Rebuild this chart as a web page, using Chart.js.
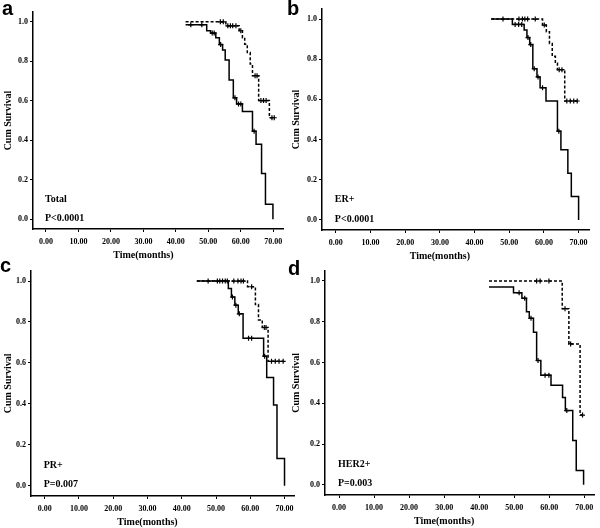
<!DOCTYPE html>
<html>
<head>
<meta charset="utf-8">
<script src="https://cdn.jsdelivr.net/npm/chart.js@4.4.0/dist/chart.umd.min.js"></script>
<style>
  html, body { margin: 0; padding: 0; background: #fff; }
  #wrap { position: relative; width: 600px; height: 528px; overflow: hidden; }
  canvas { position: absolute; }
  .tag { position: absolute; font: bold 20px "Liberation Sans", Arial, sans-serif; line-height: 20px; color: #000; }
</style>
</head>
<body>
<div id="wrap">
  <canvas id="chartA" width="300" height="264" style="left:0;top:0"></canvas>
  <canvas id="chartB" width="312" height="264" style="left:288px;top:0"></canvas>
  <canvas id="chartC" width="300" height="264" style="left:0;top:264px"></canvas>
  <canvas id="chartD" width="312" height="264" style="left:288px;top:264px"></canvas>
  <div class="tag" style="left:2px;top:-2px">a</div>
  <div class="tag" style="left:287px;top:-2px">b</div>
  <div class="tag" style="left:0px;top:255px">c</div>
  <div class="tag" style="left:288px;top:258px">d</div>
</div>
<script>
// tick labels
const xTicks = [0, 10, 20, 30, 40, 50, 60, 70];
const yTicks = [0, 0.2, 0.4, 0.6, 0.8, 1.0];

// a - Total
const aSolidTime = [43, 49.5, 50.7, 52.3, 53.4, 54.4, 55.2, 56.4, 57.7, 58.7, 60.5, 63.6, 64.7, 66.4, 67.6, 69.9];
const aSolidSurv = [0.985, 0.955, 0.943, 0.92, 0.885, 0.857, 0.807, 0.705, 0.615, 0.584, 0.546, 0.446, 0.379, 0.231, 0.076, 0];
const aSolidCens = [44.6, 48, 51.2, 51.8, 53.8, 58.2, 59.3, 60, 64.1];
const aDashTime = [43, 55.4, 59.5, 60.5, 61.2, 62, 62.9, 63.6, 65.5, 68.8];
const aDashSurv = [1, 0.98, 0.955, 0.92, 0.887, 0.845, 0.786, 0.727, 0.601, 0.514];
const aDashCens = [53.7, 54.6, 56, 56.8, 57.5, 58.5, 60, 64.4, 65, 66.2, 67, 67.8, 69.6, 70.3];

// b - ER+
const bSolidTime = [44.8, 50.9, 54.3, 55.1, 55.9, 56.8, 58, 58.9, 60.6, 63.9, 64.9, 66.9, 67.9, 70];
const bSolidSurv = [1, 0.973, 0.945, 0.908, 0.873, 0.753, 0.712, 0.658, 0.592, 0.442, 0.35, 0.233, 0.117, 0];
const bSolidCens = [48.2, 51.7, 52.7, 53.6, 55.4, 56.2, 57.2, 58.3, 59.6, 64.3];
const bDashTime = [44.8, 59.6, 60.7, 61.6, 62.4, 63.3, 63.9, 66];
const bDashSurv = [1, 0.97, 0.937, 0.878, 0.815, 0.78, 0.748, 0.592];
const bDashCens = [52.8, 53.8, 54.5, 55.3, 57.5, 60.1, 64.4, 65.2, 66.6, 67.6, 68.6, 69.6];

// c - PR+
const cSolidTime = [44.4, 53.6, 54.5, 55.5, 56.5, 57.9, 63.9, 64.8, 66.8, 67.8, 70];
const cSolidSurv = [1, 0.963, 0.922, 0.882, 0.84, 0.72, 0.633, 0.529, 0.395, 0.133, 0];
const cSolidCens = [47.7, 50.4, 51.1, 51.9, 52.7, 53.3, 54.8, 55.8, 56.8, 59.5, 60.4, 64.2];
const cDashTime = [44.4, 59.2, 61.5, 62.4, 63.5, 65.2];
const cDashSurv = [1, 0.972, 0.885, 0.81, 0.773, 0.608];
const cDashCens = [55.2, 56.4, 57.3, 58.0, 60.4, 64.1, 64.6, 66.2, 67.3, 68.4, 69.6];

// d - HER2+
const dSolidTime = [42.8, 49.8, 52.2, 53.5, 54.3, 55.5, 56.4, 57.6, 60.5, 63.8, 64.6, 66.7, 67.7, 69.8];
const dSolidSurv = [0.971, 0.942, 0.915, 0.849, 0.817, 0.748, 0.61, 0.538, 0.489, 0.428, 0.364, 0.218, 0.07, 0];
const dSolidCens = [51.4, 53, 54.8, 56.8, 58.8, 59.9, 65];
const dDashTime = [42.8, 63.7, 65.6, 68.8];
const dDashSurv = [1, 0.864, 0.691, 0.342];
const dDashCens = [56.4, 57.4, 59.9, 64.5, 66.1, 69.5];

const serif = '"Liberation Serif", "Times New Roman", serif';

// merge event steps and censored times into one sorted point list
function kmPoints(times, surv, cens) {
    const pts = times.map((t, i) => ({ x: t, y: surv[i], c: false }));
    cens.forEach(t => {
        let y = surv[0];
        times.forEach((tt, i) => { if (tt <= t) y = surv[i]; });
        pts.push({ x: t, y: y, c: true });
    });
    pts.sort((p, q) => p.x - q.x);
    return pts;
}

function kmDataset(pts, dashed) {
    return {
        data: pts,
        stepped: 'before',
        borderColor: '#000',
        borderWidth: 1.5,
        borderDash: dashed ? [3, 2] : [],
        fill: false,
        pointStyle: 'cross',
        pointRadius: ctx => (ctx.raw && ctx.raw.c ? 2.5 : 0),
        pointBorderColor: '#000',
        pointBorderWidth: 1.2
    };
}

function drawPanel(id, solid, dashed, box, label, pText) {
    const canvas = document.getElementById(id);

    // panel label, p-value and x title
    const textPlugin = {
        id: 'panelText',
        afterDraw(chart) {
            const ctx = chart.ctx;
            const xs = chart.scales.x;
            const ys = chart.scales.y;
            ctx.save();
            ctx.fillStyle = '#000';
            ctx.font = 'bold 10px ' + serif;
            ctx.textAlign = 'left';
            ctx.textBaseline = 'middle';
            ctx.fillText(label, xs.getPixelForValue(0) - 1, ys.getPixelForValue(0.1));
            ctx.fillText(pText, xs.getPixelForValue(0) - 1, ys.getPixelForValue(0.005));
            ctx.textAlign = 'center';
            ctx.fillText('Time(months)', xs.getPixelForValue(30), chart.chartArea.bottom + 26);
            ctx.restore();
        }
    };

    new Chart(canvas, {
        type: 'line',
        data: {
            datasets: [kmDataset(dashed, true), kmDataset(solid, false)]
        },
        options: {
            responsive: false,
            animation: false,
            layout: {
                padding: { top: box.top, right: canvas.width - box.right, left: 0, bottom: 0 }
            },
            plugins: {
                legend: { display: false },
                tooltip: { enabled: false }
            },
            scales: {
                x: {
                    type: 'linear',
                    min: -4,
                    max: 73,
                    afterBuildTicks: scale => { scale.ticks = xTicks.map(v => ({ value: v })); },
                    afterFit: scale => { scale.height = canvas.height - box.bottom; },
                    border: { display: true, color: '#000', width: 1.5 },
                    grid: { drawOnChartArea: false, drawTicks: true, tickLength: 3, color: '#000' },
                    ticks: {
                        color: '#000',
                        padding: 5,
                        maxRotation: 0,
                        font: { family: serif, size: 8, weight: 'bold' },
                        callback: v => v.toFixed(2)
                    }
                },
                y: {
                    min: -0.05,
                    max: 1.05,
                    afterBuildTicks: scale => { scale.ticks = yTicks.map(v => ({ value: v })); },
                    afterFit: scale => { scale.width = box.left; },
                    border: { display: true, color: '#000', width: 1.5 },
                    grid: { drawOnChartArea: false, drawTicks: true, tickLength: 3, color: '#000' },
                    ticks: {
                        color: '#000',
                        padding: 2,
                        font: { family: serif, size: 8, weight: 'bold' },
                        callback: v => v.toFixed(1)
                    },
                    title: {
                        display: true,
                        text: 'Cum Survival',
                        color: '#000',
                        padding: { top: 2, bottom: 0 },
                        font: { family: serif, size: 10, weight: 'bold' }
                    }
                }
            }
        },
        plugins: [textPlugin]
    });
}

drawPanel('chartA',
    kmPoints(aSolidTime, aSolidSurv, aSolidCens),
    kmPoints(aDashTime, aDashSurv, aDashCens),
    { left: 33, top: 12, right: 283, bottom: 229 }, 'Total', 'P<0.0001');

drawPanel('chartB',
    kmPoints(bSolidTime, bSolidSurv, bSolidCens),
    kmPoints(bDashTime, bDashSurv, bDashCens),
    { left: 34, top: 9, right: 301, bottom: 230 }, 'ER+', 'P<0.0001');

drawPanel('chartC',
    kmPoints(cSolidTime, cSolidSurv, cSolidCens),
    kmPoints(cDashTime, cDashSurv, cDashCens),
    { left: 31, top: 6, right: 295, bottom: 232 }, 'PR+', 'P=0.007');

drawPanel('chartD',
    kmPoints(dSolidTime, dSolidSurv, dSolidCens),
    kmPoints(dDashTime, dDashSurv, dDashCens),
    { left: 37, top: 4, right: 311, bottom: 231 }, 'HER2+', 'P=0.003');
</script>
</body>
</html>
